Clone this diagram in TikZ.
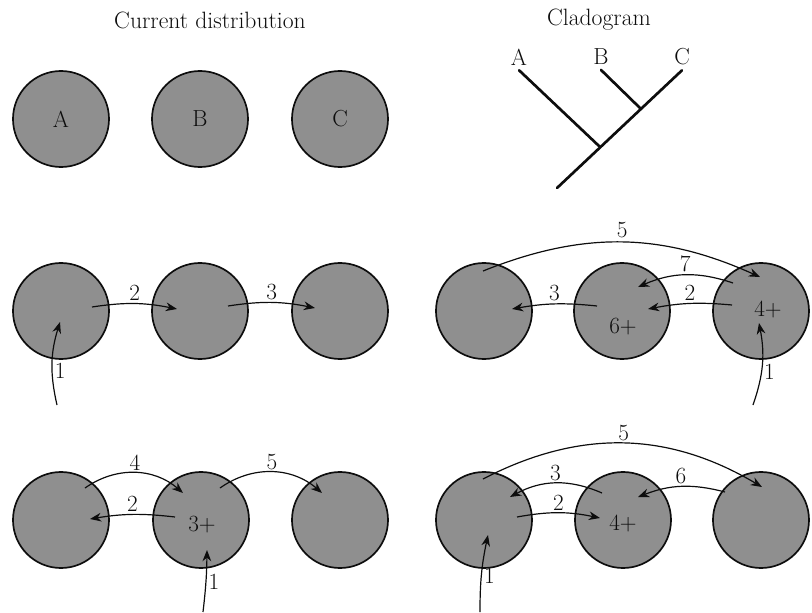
\documentclass[tikz,border=0pt]{standalone}
\usetikzlibrary{arrows.meta, calc}
\definecolor{rangegray}{gray}{0.56}
\definecolor{inkblack}{gray}{0.05}

\begin{document}
\begin{tikzpicture}[x=0.025cm, y=-0.025cm, >={Stealth[length=8pt, width=6.2pt]},
    line width=0.85pt, draw=inkblack, text=inkblack,
    font=\fontsize{16.5}{19}\selectfont,
    area/.style={circle, draw=inkblack, line width=1.2pt, fill=rangegray,
                  minimum size=2.4cm, inner sep=0pt},
    num/.style={inner sep=1.5pt},
    branch/.style={line width=1.9pt, line cap=round}]

% Frame
\useasboundingbox (0,0) rectangle (812,613);

% Titles
\node[font=\fontsize{16.8}{19}\selectfont] (titleL) at (210,20) {Current distribution};
\node[font=\fontsize{16.8}{19}\selectfont] (titleR) at (599,20) {Cladogram};

% Current distribution
\node[area] (A) at (61,119) {A};
\node[area] (B) at (200,119) {B};
\node[area] (C) at (340,119) {C};

% Cladogram
\node[inner sep=1pt] (tipA) at (519,57) {A};
\node[inner sep=1pt] (tipB) at (601,57) {B};
\node[inner sep=1pt] (tipC) at (682,57) {C};
\coordinate (jABC) at (599,146);
\coordinate (jBC) at (640,108);
\coordinate (root) at (557,188);
\draw[branch] ($(tipA.south)+(0,3)$) -- (jABC);
\draw[branch] ($(tipB.south)+(0,3)$) -- (jBC);
\draw[branch] ($(tipC.south)+(0,3)$) -- (root);

% Second row, left: stepwise dispersal A -> B -> C
\node[area] (L2a) at (61,311) {};
\node[area] (L2b) at (200,311) {};
\node[area] (L2c) at (340,311) {};
\coordinate (inL2) at (57,405);
\draw[->] (inL2) to[bend left=15] node[num, right, pos=.4] {1} ($(L2a)+(-1,11)$);
\draw[->] ($(L2a)+(31,-4)$) to[bend left=10] node[num, above] {2} ($(L2b)+(-23,-2)$);
\draw[->] ($(L2b)+(28,-5)$) to[bend left=10] node[num, above] {3} ($(L2c)+(-25,-3)$);

% Second row, right: dispersal from C
\node[area] (R2a) at (484,311) {};
\node[area] (R2b) at (622,311) {};
\node[area] (R2c) at (761,311) {};
\node (plusR2b) at ($(R2b)+(1,16)$) {6+};
\node (plusR2c) at ($(R2c)+(7,-2)$) {4+};
\coordinate (inR2) at (753,405);
\draw[->] (inR2) to[bend right=15] node[num, right, pos=.4] {1} ($(R2c)+(-2,12)$);
\draw[->] ($(R2c)+(-29,-6)$) to[bend right=8] node[num, above] {2} ($(R2b)+(26,-2)$);
\draw[->] ($(R2b)+(-25,-5)$) to[bend right=8] node[num, above] {3} ($(R2a)+(28,-2)$);
\draw[->] ($(R2a)+(-1,-40)$) to[bend left=23] node[above, inner sep=3pt] {5} ($(R2c)+(-1,-34)$);
\draw[->] ($(R2c)+(-28,-28)$) to[bend right=21] node[num, above] {7} ($(R2b)+(16,-24)$);

% Third row, left: dispersal from B
\node[area] (L3a) at (61,520) {};
\node[area] (L3b) at (201,520) {};
\node[area] (L3c) at (340,520) {};
\node (plusL3b) at ($(L3b)+(1,5)$) {3+};
\coordinate (inL3) at (203,612);
\draw[->] (inL3) to[bend right=3] node[num, right, pos=.48] {1} ($(L3b)+(6,30)$);
\draw[->] ($(L3b)+(-26,-3)$) to[bend right=8] node[num, above] {2} ($(L3a)+(29,-1)$);
\draw[->] ($(L3a)+(24,-32)$) to[bend left=38] node[num, above] {4} ($(L3b)+(-18,-27)$);
\draw[->] ($(L3b)+(19,-32)$) to[bend left=38] node[num, above] {5} ($(L3c)+(-18,-27)$);

% Third row, right: dispersal from A
\node[area] (R3a) at (484,520) {};
\node[area] (R3b) at (623,520) {};
\node[area] (R3c) at (761,520) {};
\node (plusR3b) at ($(R3b)+(0,3)$) {4+};
\coordinate (inR3) at (480,612);
\draw[->] (inR3) to[bend left=6] node[num, right, pos=.47] {1} ($(R3a)+(4,15)$);
\draw[->] ($(R3a)+(33,-3)$) to[bend left=11] node[num, above] {2} ($(R3b)+(-23,-2)$);
\draw[->] ($(R3b)+(-21,-27)$) to[bend right=26] node[num, above] {3} ($(R3a)+(26,-23)$);
\draw[->] ($(R3a)+(-1,-41)$) to[bend left=29] node[num, above] {5} ($(R3c)+(1,-33)$);
\draw[->] ($(R3c)+(-36,-28)$) to[bend right=18] node[num, above] {6} ($(R3b)+(15,-23)$);

\end{tikzpicture}
\end{document}
